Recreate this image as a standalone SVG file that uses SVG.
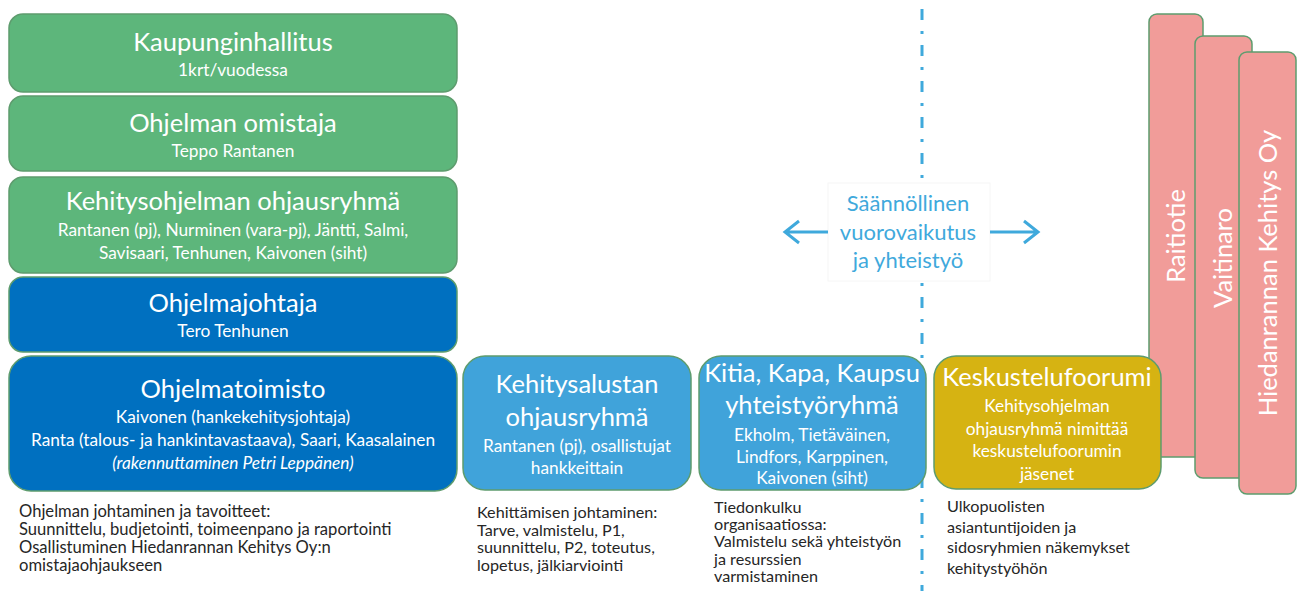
<svg xmlns="http://www.w3.org/2000/svg" width="1298" height="591" viewBox="0 0 1298 591">
<defs>
<style>
text{font-family:Lato,"Liberation Sans",sans-serif}
.box{stroke:#5E9C6E;stroke-width:1.5}
.g{fill:#5DB67B}
.b{fill:#0070C0}
.lb{fill:#40A3DA}
.au{fill:#D6B312}
.pk{fill:#F19C99}
.t{fill:#fff;font-size:25.5px;text-anchor:middle}
.s{fill:#fff;font-size:17.3px;text-anchor:middle}
.n{fill:#262626;font-size:16.6px}
.m{fill:#262626;font-size:16.2px}
.r{fill:#fff;font-size:25.5px;text-anchor:middle}
.c{fill:#3FA9DC;font-size:22px;text-anchor:middle}
.ar{fill:none;stroke:#3FA9DC;stroke-width:3}
</style>
</defs>
<g id="connectors">
<line x1="922" y1="9" x2="922" y2="591" stroke="#3FA9DC" stroke-width="3" stroke-dasharray="11 11 3 11"/>
<rect x="828" y="183" width="162" height="98" fill="#fff" stroke="#F6F6F6" stroke-width="1"/>
<path class="ar" d="M828 232H786M799 221L785 232L799 243"/>
<path class="ar" d="M990 232H1037M1024 221L1038 232L1024 243"/>
<text class="c" x="908" y="211">Säännöllinen</text>
<text class="c" x="908" y="240">vuorovaikutus</text>
<text class="c" x="908" y="268">ja yhteistyö</text>
</g>
<g id="kaupunginhallitus">
<rect class="box g" x="9" y="14" width="448" height="78" rx="14"/>
<text class="t" x="233" y="51">Kaupunginhallitus</text>
<text class="s" x="233" y="76">1krt/vuodessa</text>
</g>
<g id="omistaja">
<rect class="box g" x="9" y="96" width="448" height="75" rx="14"/>
<text class="t" x="233" y="132">Ohjelman omistaja</text>
<text class="s" x="233" y="157">Teppo Rantanen</text>
</g>
<g id="ohjausryhma">
<rect class="box g" x="9" y="177" width="448" height="96" rx="14"/>
<text class="t" x="233" y="210">Kehitysohjelman ohjausryhmä</text>
<text class="s" x="233" y="236">Rantanen (pj), Nurminen (vara-pj), Jäntti, Salmi,</text>
<text class="s" x="233" y="259">Savisaari, Tenhunen, Kaivonen (siht)</text>
</g>
<g id="ohjelmajohtaja">
<rect class="box b" x="9" y="277" width="448" height="75" rx="14"/>
<text class="t" x="233" y="312">Ohjelmajohtaja</text>
<text class="s" x="233" y="337">Tero Tenhunen</text>
</g>
<g id="ohjelmatoimisto">
<rect class="box b" x="9" y="356" width="448" height="135" rx="22"/>
<text class="t" x="233" y="398">Ohjelmatoimisto</text>
<text class="s" x="233" y="423">Kaivonen (hankekehitysjohtaja)</text>
<text class="s" x="233" y="446">Ranta (talous- ja hankintavastaava), Saari, Kaasalainen</text>
<text class="s" x="233" y="469" font-style="italic">(rakennuttaminen Petri Leppänen)</text>
<text class="n" x="19" y="517">Ohjelman johtaminen ja tavoitteet:</text>
<text class="n" x="19" y="535">Suunnittelu, budjetointi, toimeenpano ja raportointi</text>
<text class="n" x="19" y="553">Osallistuminen Hiedanrannan Kehitys Oy:n</text>
<text class="n" x="19" y="571">omistajaohjaukseen</text>
</g>
<g id="kehitysalusta">
<rect class="box lb" x="463" y="356" width="228" height="134" rx="22"/>
<text class="t" x="577" y="393">Kehitysalustan</text>
<text class="t" x="577" y="426">ohjausryhmä</text>
<text class="s" x="577" y="452">Rantanen (pj), osallistujat</text>
<text class="s" x="577" y="474">hankkeittain</text>
<text class="m" x="477" y="518">Kehittämisen johtaminen:</text>
<text class="m" x="477" y="535.5">Tarve, valmistelu, P1,</text>
<text class="m" x="477" y="553">suunnittelu, P2, toteutus,</text>
<text class="m" x="477" y="570.5">lopetus, jälkiarviointi</text>
</g>
<g id="kitia">
<rect class="box lb" x="699" y="356" width="227" height="134" rx="22"/>
<text class="t" x="812" y="382">Kitia, Kapa, Kaupsu</text>
<text class="t" x="812" y="414">yhteistyöryhmä</text>
<text class="s" x="812" y="441">Ekholm, Tietäväinen,</text>
<text class="s" x="812" y="463">Lindfors, Karppinen,</text>
<text class="s" x="812" y="484">Kaivonen (siht)</text>
<text class="m" x="714" y="513">Tiedonkulku</text>
<text class="m" x="714" y="530">organisaatiossa:</text>
<text class="m" x="714" y="547">Valmistelu sekä yhteistyön</text>
<text class="m" x="714" y="565">ja resurssien</text>
<text class="m" x="714" y="582">varmistaminen</text>
</g>
<g id="raitiotie">
<rect class="box pk" x="1149" y="14" width="54" height="443" rx="8"/>
<text class="r" transform="translate(1185 236) rotate(-90)">Raitiotie</text>
</g>
<g id="vaitinaro">
<rect class="box pk" x="1195" y="36" width="57" height="442" rx="8"/>
<text class="r" transform="translate(1232 258) rotate(-90)">Vaitinaro</text>
</g>
<g id="hiedanrannan">
<rect class="box pk" x="1239" y="52" width="57" height="442" rx="8"/>
<text class="r" transform="translate(1277 273) rotate(-90)">Hiedanrannan Kehitys Oy</text>
</g>
<g id="keskustelufoorumi">
<rect class="box au" x="934" y="356" width="227" height="133" rx="22"/>
<text class="t" x="1047" y="386">Keskustelufoorumi</text>
<text class="s" x="1047" y="412">Kehitysohjelman</text>
<text class="s" x="1047" y="435">ohjausryhmä nimittää</text>
<text class="s" x="1047" y="457">keskustelufoorumin</text>
<text class="s" x="1047" y="480">jäsenet</text>
<text class="m" x="947" y="512">Ulkopuolisten</text>
<text class="m" x="947" y="533">asiantuntijoiden ja</text>
<text class="m" x="947" y="553">sidosryhmien näkemykset</text>
<text class="m" x="947" y="574">kehitystyöhön</text>
</g>
</svg>
